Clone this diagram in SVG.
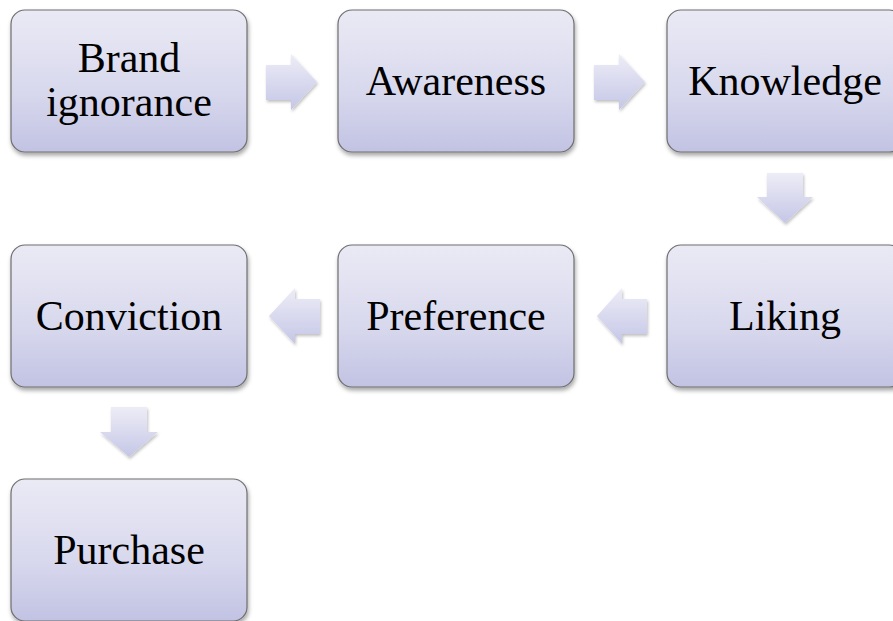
<svg xmlns="http://www.w3.org/2000/svg" width="893" height="621" viewBox="0 0 893 621">
  <defs>
    <linearGradient id="boxGrad" x1="0" y1="0" x2="0" y2="1">
      <stop offset="0" stop-color="#eaeaf5"/>
      <stop offset="0.55" stop-color="#d9d9ee"/>
      <stop offset="1" stop-color="#c2c3e3"/>
    </linearGradient>
    <linearGradient id="arrowGrad" x1="0" y1="0" x2="0" y2="1">
      <stop offset="0" stop-color="#ededf7"/>
      <stop offset="1" stop-color="#c5c6e6"/>
    </linearGradient>
    <filter id="shadow" x="-10%" y="-10%" width="125%" height="130%">
      <feDropShadow dx="1" dy="3" stdDeviation="2" flood-color="#000" flood-opacity="0.35"/>
    </filter>
    <filter id="ashadow" x="-20%" y="-20%" width="150%" height="150%">
      <feDropShadow dx="1" dy="2" stdDeviation="1.5" flood-color="#000" flood-opacity="0.25"/>
    </filter>
  </defs>
  <style>
    .box { fill: url(#boxGrad); stroke: #6e6e6e; stroke-width: 1.2; filter: url(#shadow); }
    .lbl { font-family: "Liberation Serif", "Times New Roman", serif; font-size: 42px; fill: #000; text-anchor: middle; }
    .arr { fill: url(#arrowGrad); stroke: none; filter: url(#ashadow); }
  </style>
  <rect width="893" height="621" fill="#ffffff"/>

  <g id="connectors">
    <polygon class="arr" points="266,65 291,65 291,54 317,82 291,110 291,100 266,100"/>
    <polygon class="arr" points="594,65 619,65 619,54 645,82 619,110 619,100 594,100"/>
    <polygon class="arr" points="767,173 803,173 803,197 813,197 785,223 757,197 767,197"/>
    <polygon class="arr" points="647,299 622,299 622,288 597,316 622,344 622,334 647,334"/>
    <polygon class="arr" points="320,299 295,299 295,288 269,316 295,344 295,334 320,334"/>
    <polygon class="arr" points="111,407 147,407 147,432 158,432 129,457 100,432 111,432"/>
  </g>

  <g id="brand-ignorance">
    <rect class="box" x="11" y="10" width="236" height="142" rx="14"/>
    <text class="lbl" x="129" y="72">Brand</text>
    <text class="lbl" x="129" y="116">ignorance</text>
  </g>
  <g id="awareness">
    <rect class="box" x="338" y="10" width="236" height="142" rx="14"/>
    <text class="lbl" x="456" y="95">Awareness</text>
  </g>
  <g id="knowledge">
    <rect class="box" x="667" y="10" width="236" height="142" rx="14"/>
    <text class="lbl" x="785" y="95">Knowledge</text>
  </g>
  <g id="liking">
    <rect class="box" x="667" y="245" width="236" height="142" rx="14"/>
    <text class="lbl" x="785" y="330">Liking</text>
  </g>
  <g id="preference">
    <rect class="box" x="338" y="245" width="236" height="142" rx="14"/>
    <text class="lbl" x="456" y="330">Preference</text>
  </g>
  <g id="conviction">
    <rect class="box" x="11" y="245" width="236" height="142" rx="14"/>
    <text class="lbl" x="129" y="330">Conviction</text>
  </g>
  <g id="purchase">
    <rect class="box" x="11" y="479" width="236" height="142" rx="14"/>
    <text class="lbl" x="129" y="564">Purchase</text>
  </g>
</svg>
